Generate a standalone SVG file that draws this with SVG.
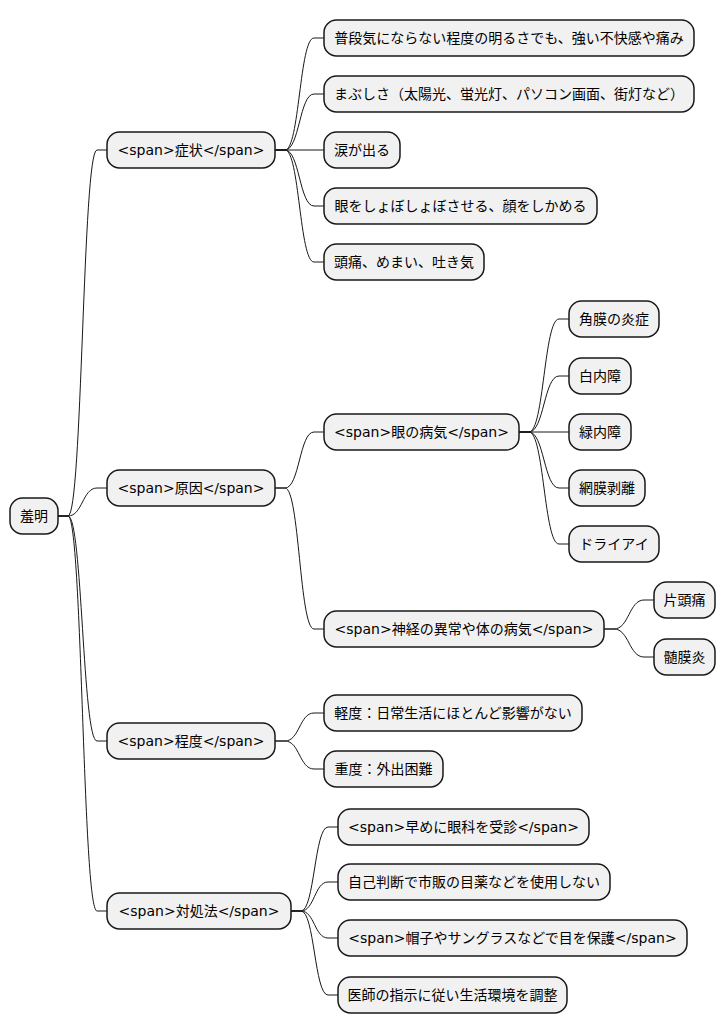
<svg xmlns="http://www.w3.org/2000/svg" width="726" height="1034" viewBox="0 0 726 1034">
<style>
.n rect{fill:#F1F1F1;stroke:#181818;stroke-width:1.5}
.n text{font-family:"DejaVu Sans","Noto Sans CJK JP",sans-serif;font-size:14px;fill:#000;text-anchor:middle}
.c path{fill:none;stroke:#181818;stroke-width:1}
</style>
<rect width="726" height="1034" fill="#FFFFFF"/>
<g class="c">
<path d="M58,516 L68,516 C82.5,516 82.5,150 97,150 L107,150"/>
<path d="M58,516 L68,516 C82.5,516 82.5,488 97,488 L107,488"/>
<path d="M58,516 L68,516 C82.5,516 82.5,741 97,741 L107,741"/>
<path d="M58,516 L68,516 C82.5,516 82.5,911 97,911 L107,911"/>
<path d="M275,150 L285,150 C299.5,150 299.5,38 314,38 L324,38"/>
<path d="M275,150 L285,150 C299.5,150 299.5,94 314,94 L324,94"/>
<path d="M275,150 L324,150"/>
<path d="M275,150 L285,150 C299.5,150 299.5,206 314,206 L324,206"/>
<path d="M275,150 L285,150 C299.5,150 299.5,262 314,262 L324,262"/>
<path d="M275,488 L285,488 C299.5,488 299.5,432 314,432 L324,432"/>
<path d="M275,488 L285,488 C299.5,488 299.5,629 314,629 L324,629"/>
<path d="M519,432 L529,432 C544,432 544,319 559,319 L569,319"/>
<path d="M519,432 L529,432 C544,432 544,376 559,376 L569,376"/>
<path d="M519,432 L569,432"/>
<path d="M519,432 L529,432 C544,432 544,488 559,488 L569,488"/>
<path d="M519,432 L529,432 C544,432 544,544 559,544 L569,544"/>
<path d="M604,629 L614,629 C629,629 629,600 644,600 L654,600"/>
<path d="M604,629 L614,629 C629,629 629,657 644,657 L654,657"/>
<path d="M275,741 L285,741 C299.5,741 299.5,713 314,713 L324,713"/>
<path d="M275,741 L285,741 C299.5,741 299.5,769 314,769 L324,769"/>
<path d="M291,911 L301,911 C314.5,911 314.5,827 328,827 L338,827"/>
<path d="M291,911 L301,911 C314.5,911 314.5,882 328,882 L338,882"/>
<path d="M291,911 L301,911 C314.5,911 314.5,938 328,938 L338,938"/>
<path d="M291,911 L301,911 C314.5,911 314.5,995 328,995 L338,995"/>
</g>
<g id="root" class="n"><rect x="10" y="498" width="48" height="36" rx="12.5"/><text x="34" y="521">羞明</text></g>
<g id="shojo" class="n"><rect x="107" y="132" width="168" height="36" rx="12.5"/><text x="191" y="155">&lt;span&gt;症状&lt;/span&gt;</text></g>
<g id="s1" class="n"><rect x="324" y="20" width="370" height="36" rx="12.5"/><text x="509" y="43">普段気にならない程度の明るさでも、強い不快感や痛み</text></g>
<g id="s2" class="n"><rect x="324" y="76" width="370" height="36" rx="12.5"/><text x="509" y="99">まぶしさ（太陽光、蛍光灯、パソコン画面、街灯など）</text></g>
<g id="s3" class="n"><rect x="324" y="132" width="76" height="36" rx="12.5"/><text x="362" y="155">涙が出る</text></g>
<g id="s4" class="n"><rect x="324" y="188" width="273" height="36" rx="12.5"/><text x="460.5" y="211">眼をしょぼしょぼさせる、顔をしかめる</text></g>
<g id="s5" class="n"><rect x="324" y="244" width="160" height="36" rx="12.5"/><text x="404" y="267">頭痛、めまい、吐き気</text></g>
<g id="genin" class="n"><rect x="107" y="470" width="168" height="36" rx="12.5"/><text x="191" y="493">&lt;span&gt;原因&lt;/span&gt;</text></g>
<g id="me" class="n"><rect x="324" y="414" width="195" height="36" rx="12.5"/><text x="421.5" y="437">&lt;span&gt;眼の病気&lt;/span&gt;</text></g>
<g id="m1" class="n"><rect x="569" y="301" width="90" height="36" rx="12.5"/><text x="614" y="324">角膜の炎症</text></g>
<g id="m2" class="n"><rect x="569" y="358" width="62" height="36" rx="12.5"/><text x="600" y="381">白内障</text></g>
<g id="m3" class="n"><rect x="569" y="414" width="62" height="36" rx="12.5"/><text x="600" y="437">緑内障</text></g>
<g id="m4" class="n"><rect x="569" y="470" width="76" height="36" rx="12.5"/><text x="607" y="493">網膜剥離</text></g>
<g id="m5" class="n"><rect x="569" y="526" width="90" height="36" rx="12.5"/><text x="614" y="549">ドライアイ</text></g>
<g id="shinkei" class="n"><rect x="324" y="611" width="280" height="36" rx="12.5"/><text x="464" y="634">&lt;span&gt;神経の異常や体の病気&lt;/span&gt;</text></g>
<g id="k1" class="n"><rect x="654" y="582" width="61" height="36" rx="12.5"/><text x="684.5" y="605">片頭痛</text></g>
<g id="k2" class="n"><rect x="654" y="639" width="61" height="36" rx="12.5"/><text x="684.5" y="662">髄膜炎</text></g>
<g id="teido" class="n"><rect x="107" y="723" width="168" height="36" rx="12.5"/><text x="191" y="746">&lt;span&gt;程度&lt;/span&gt;</text></g>
<g id="t1" class="n"><rect x="324" y="695" width="258" height="36" rx="12.5"/><text x="453" y="718">軽度：日常生活にほとんど影響がない</text></g>
<g id="t2" class="n"><rect x="324" y="751" width="119" height="36" rx="12.5"/><text x="383.5" y="774">重度：外出困難</text></g>
<g id="taisho" class="n"><rect x="107" y="893" width="184" height="36" rx="12.5"/><text x="199" y="916">&lt;span&gt;対処法&lt;/span&gt;</text></g>
<g id="h1" class="n"><rect x="338" y="809" width="251" height="36" rx="12.5"/><text x="463.5" y="832">&lt;span&gt;早めに眼科を受診&lt;/span&gt;</text></g>
<g id="h2" class="n"><rect x="338" y="864" width="272" height="36" rx="12.5"/><text x="474" y="887">自己判断で市販の目薬などを使用しない</text></g>
<g id="h3" class="n"><rect x="338" y="920" width="349" height="36" rx="12.5"/><text x="512.5" y="943">&lt;span&gt;帽子やサングラスなどで目を保護&lt;/span&gt;</text></g>
<g id="h4" class="n"><rect x="338" y="977" width="229" height="36" rx="12.5"/><text x="452.5" y="1000">医師の指示に従い生活環境を調整</text></g>
</svg>
